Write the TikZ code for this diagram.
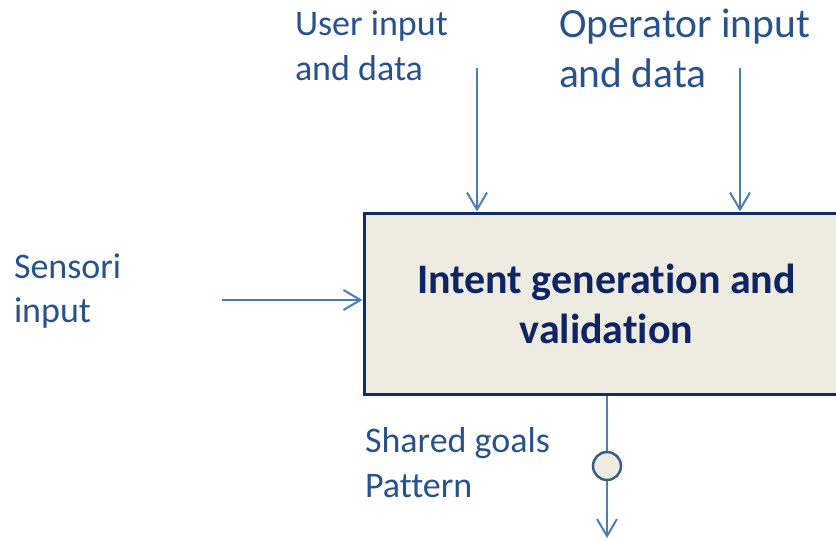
\documentclass[tikz,border=0pt]{standalone}
\usepackage{fontspec}
\setmainfont{Carlito}[RawFeature={-liga;-clig;-dlig}]
\usetikzlibrary{arrows.meta}
\definecolor{lbl}{HTML}{27528A}
\definecolor{boldtxt}{HTML}{0E2463}
\definecolor{boxline}{HTML}{0F2D6B}
\definecolor{boxfill}{HTML}{EEECE1}
\definecolor{arr}{HTML}{4A7EBB}
\definecolor{circline}{HTML}{385D8A}
\tikzset{
  lab/.style={inner sep=0pt, outer sep=0pt, anchor=base west, align=left, text=lbl},
  conn/.style={draw=arr, line width=2pt, -{Straight Barb[length=17pt,width=20pt,line width=2pt]}},
  plain/.style={draw=arr, line width=2pt},
  mainbox/.style={draw=boxline, line width=3pt, fill=boxfill, minimum width=485pt, minimum height=181pt, align=center, text=boldtxt, inner sep=0pt, font=\fontsize{42}{50}\selectfont\bfseries},
  junction/.style={circle, draw=circline, line width=2.5pt, fill=boxfill, minimum size=28pt, inner sep=0pt}
}
\begin{document}
\begin{tikzpicture}[x=1pt,y=-1pt]
\useasboundingbox (0,0) rectangle (836,539);
\clip (0,0) rectangle (836,539);
\node[mainbox] (box) at (606.5,303.5) {Intent generation and\\ validation};
\node[lab, font=\fontsize{36}{45}\selectfont] (user) at (295,80) {User input\\and data};
\node[lab, font=\fontsize{41.5}{50}\selectfont] (oper) at (559,87) {Operator input\\and data};
\node[lab, font=\fontsize{36}{44}\selectfont] (sens) at (14,322) {Sensori\\input};
\node[lab, font=\fontsize{36}{45}\selectfont] (shared) at (365,497) {Shared goals\\Pattern};
\coordinate (u0) at (477,68);
\coordinate (o0) at (740,68);
\coordinate (s0) at (222,300);
\coordinate (end) at (607,538);
\node[junction] (jn) at (607,466) {};
\draw[conn] (u0) -- (u0 |- box.north);
\draw[conn] (o0) -- (o0 |- box.north);
\draw[conn] (s0) -- (s0 -| box.west);
\draw[plain] (jn.north |- box.south) -- (jn.north);
\draw[conn] (jn.south) -- (end);
\end{tikzpicture}
\end{document}
